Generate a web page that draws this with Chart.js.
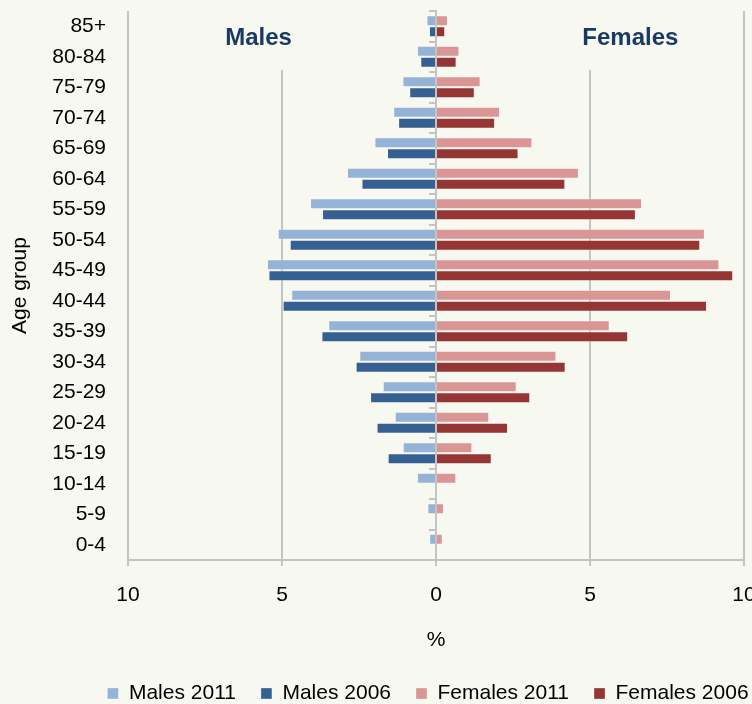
<!DOCTYPE html>
<html>
<head>
<meta charset="utf-8">
<script src="https://cdn.jsdelivr.net/npm/chart.js@4.4.1/dist/chart.umd.min.js"></script>
<style>
  html, body { margin: 0; padding: 0; background: #f7f8f0; overflow: hidden; }
  #wrap { width: 752px; height: 704px; overflow: hidden; }
</style>
</head>
<body>
<div id="wrap"><canvas id="chart" width="856" height="714"></canvas></div>
<script>
// age groups, oldest first (top of the pyramid)
const ageGroups = ["85+", "80-84", "75-79", "70-74", "65-69", "60-64", "55-59", "50-54", "45-49",
  "40-44", "35-39", "30-34", "25-29", "20-24", "15-19", "10-14", "5-9", "0-4"];
// % of population
const males2011 = [0.31, 0.62, 1.09, 1.39, 2.0, 2.89, 4.09, 5.14, 5.49, 4.7, 3.5, 2.49, 1.73, 1.34, 1.08, 0.62, 0.28, 0.22];
const males2006 = [0.23, 0.51, 0.87, 1.23, 1.59, 2.42, 3.7, 4.75, 5.44, 4.98, 3.72, 2.61, 2.14, 1.93, 1.57, null, null, null];
const females2011 = [0.39, 0.76, 1.45, 2.08, 3.13, 4.64, 6.69, 8.73, 9.2, 7.63, 5.64, 3.91, 2.62, 1.73, 1.18, 0.66, 0.26, 0.22];
const females2006 = [0.3, 0.67, 1.26, 1.92, 2.68, 4.2, 6.49, 8.58, 9.65, 8.8, 6.24, 4.21, 3.06, 2.34, 1.81, null, null, null];
const xTicks = [-10, -5, 0, 5, 10];

const bg = "#f7f8f0";
const gridColor = "#c4c4c4";
const font = "'Liberation Sans', Arial, sans-serif";

const neg = (arr) => arr.map((v) => (v == null ? null : -v));

const bgPlugin = {
  id: "bg",
  beforeDraw: (chart) => {
    const ctx = chart.ctx;
    ctx.save();
    ctx.fillStyle = bg;
    ctx.fillRect(0, 0, chart.width, chart.height);
    ctx.restore();
  },
};

// "Males" / "Females" text boxes sitting over the grid
const sexLabels = {
  id: "sexLabels",
  beforeDatasetsDraw: (chart) => {
    const { ctx, chartArea, scales } = chart;
    const y = chartArea.top + 27;
    const items = [
      { text: "Males", x: scales.x.getPixelForValue(-5.76), w: 120 },
      { text: "Females", x: scales.x.getPixelForValue(6.31), w: 140 },
    ];
    ctx.save();
    for (const it of items) {
      ctx.fillStyle = bg;
      ctx.fillRect(it.x - it.w / 2, chartArea.top, it.w, 59);
      ctx.fillStyle = "#1a3a66";
      ctx.font = "bold 24px " + font;
      ctx.textAlign = "center";
      ctx.textBaseline = "middle";
      ctx.fillText(it.text, it.x, y);
    }
    ctx.restore();
  },
};

const barOpts = {
  borderWidth: 1,
  borderColor: "rgba(255,255,255,0.3)",
  categoryPercentage: 0.725,
  barPercentage: 1,
};

new Chart(document.getElementById("chart"), {
  type: "bar",
  data: {
    labels: ageGroups,
    datasets: [
      { label: "Males 2011", data: neg(males2011), backgroundColor: "#95b3d7", stack: "2011", ...barOpts },
      { label: "Males 2006", data: neg(males2006), backgroundColor: "#366092", stack: "2006", ...barOpts },
      { label: "Females 2011", data: females2011, backgroundColor: "#da9694", stack: "2011", ...barOpts },
      { label: "Females 2006", data: females2006, backgroundColor: "#963634", stack: "2006", ...barOpts },
    ],
  },
  options: {
    indexAxis: "y",
    responsive: false,
    animation: false,
    layout: { padding: { top: 11, left: 0, right: 0, bottom: 0 } },
    scales: {
      x: {
        stacked: true,
        min: -10,
        max: 10,
        afterBuildTicks: (s) => { s.ticks = xTicks.map((v) => ({ value: v })); },
        afterFit: (s) => { s.height = 98; },
        ticks: {
          callback: (v) => Math.abs(v),
          color: "#000",
          font: { family: font, size: 21 },
          padding: 17,
        },
        grid: { color: gridColor, lineWidth: 2, tickLength: 6 },
        border: { color: gridColor, width: 2 },
        title: {
          display: true,
          text: "%",
          color: "#000",
          font: { family: font, size: 21 },
          padding: { top: 20, bottom: 5 },
        },
      },
      y: {
        position: "left",
        afterFit: (s) => { s.width = 128; },
        grid: { display: false, drawTicks: true, tickLength: 22 },
        border: { display: false },
        ticks: {
          color: "#000",
          font: { family: font, size: 21, lineHeight: 1 },
          padding: 0,
        },
        title: {
          display: true,
          text: "Age group",
          color: "#000",
          font: { family: font, size: 21, lineHeight: 1.1 },
          padding: { top: 9, bottom: 0 },
        },
      },
      y2: {
        type: "category",
        position: { x: 0 },
        offset: true,
        grid: { offset: true, drawOnChartArea: false, drawTicks: true, tickLength: 6, color: gridColor, lineWidth: 2 },
        border: { color: gridColor, width: 2 },
        ticks: { display: false },
      },
      y3: {
        type: "category",
        position: "right",
        afterFit: (s) => { s.width = 112; },
        grid: { display: false },
        border: { display: false },
        ticks: { display: false },
      },
    },
    plugins: {
      legend: {
        position: "bottom",
        labels: {
          boxWidth: 11,
          boxHeight: 11,
          padding: 25,
          color: "#000",
          font: { family: font, size: 21 },
        },
      },
      tooltip: { enabled: false },
    },
  },
  plugins: [bgPlugin, sexLabels],
});
</script>
</body>
</html>
